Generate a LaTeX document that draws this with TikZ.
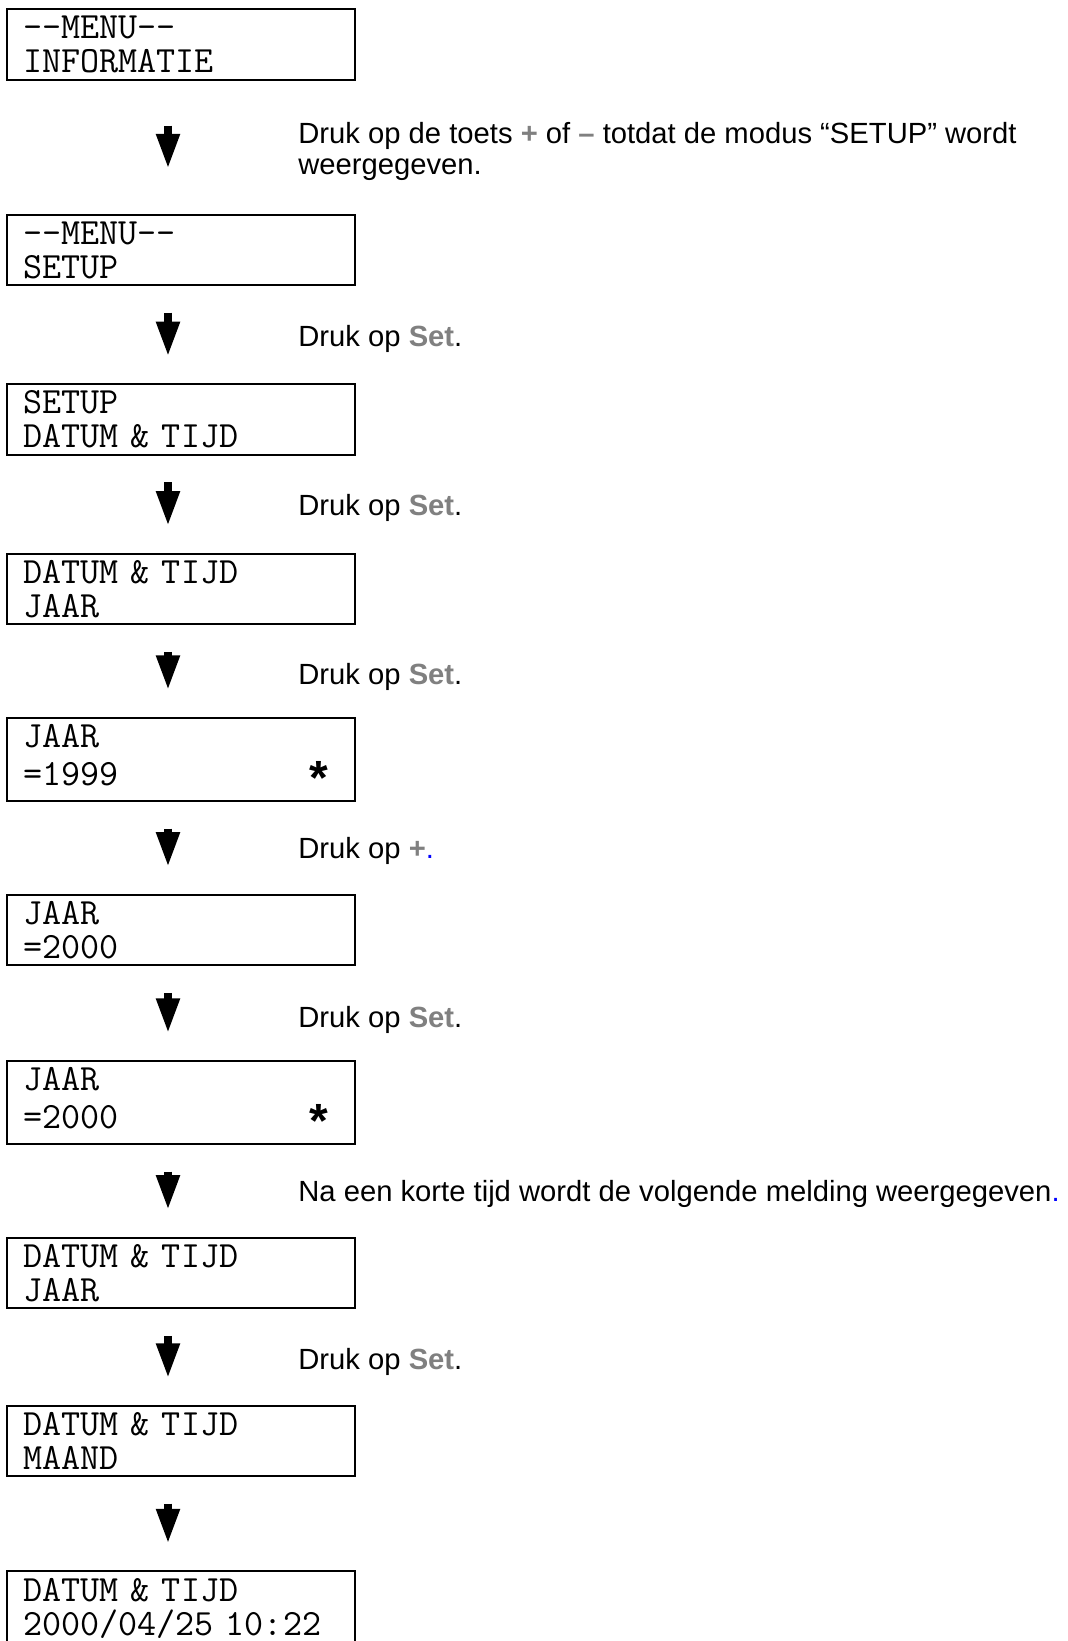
\documentclass[tikz,border=0pt]{standalone}
\usepackage{fontspec}
\setmainfont{Liberation Sans}
\usetikzlibrary{arrows.meta}
\definecolor{keygrey}{RGB}{128,128,128}
\definecolor{dotblue}{RGB}{0,0,255}
\newcommand{\toets}[1]{\textcolor{keygrey}{\textbf{#1}}}
\newcommand{\ster}[1]{\makebox[152.5pt][l]{#1\hfill\raisebox{-4.5pt}{\rmfamily\bfseries\fontsize{24}{17}\selectfont *}}}
\tikzstyle{lcd}=[draw, line width=1pt, minimum width=174pt, minimum height=34.5pt, text width=158pt, inner xsep=8pt, align=left, font=\ttfamily\fontsize{18.5}{17}\selectfont]
\tikzstyle{lcdstar}=[lcd, minimum height=37.5pt]
\tikzstyle{say}=[anchor=base west, inner sep=0pt, font=\fontsize{14.6}{15.5}\selectfont]
\tikzset{flow/.style={line width=4pt, -{Triangle[width=11pt,length=17.5pt]}, shorten <=#1, shorten >=#1}, flow/.default=13.25pt}

\begin{document}
\begin{tikzpicture}[x=0.5pt,y=-0.5pt]
	\useasboundingbox (0,0) rectangle (1068,1641);
	\coordinate (acol) at (168,0);
	\node[lcd] (b1) at (181,44.5) {-{}-MENU-{}-\\INFORMATIE};
	\node[lcd] (b2) at (181,250) {-{}-MENU-{}-\\SETUP};
	\node[lcd] (b3) at (181,419.5) {SETUP\\DATUM \& TIJD};
	\node[lcd] (b4) at (181,589) {DATUM \& TIJD\\JAAR};
	\node[lcdstar] (b5) at (181,759.5) {JAAR\\[2pt]\ster{=1999}};
	\node[lcd] (b6) at (181,930) {JAAR\\=2000};
	\node[lcdstar] (b7) at (181,1102.5) {JAAR\\[2pt]\ster{=2000}};
	\node[lcd] (b8) at (181,1273) {DATUM \& TIJD\\JAAR};
	\node[lcd] (b9) at (181,1441) {DATUM \& TIJD\\MAAND};
	\node[lcd] (b10) at (181,1608) {DATUM \& TIJD\\2000/04/25 10:22};
	\draw[flow=22.5pt] (b1.south -| acol) -- (b2.north -| acol);
	\draw[flow] (b2.south -| acol) -- (b3.north -| acol);
	\draw[flow] (b3.south -| acol) -- (b4.north -| acol);
	\draw[flow] (b4.south -| acol) -- (b5.north -| acol);
	\draw[flow] (b5.south -| acol) -- (b6.north -| acol);
	\draw[flow] (b6.south -| acol) -- (b7.north -| acol);
	\draw[flow] (b7.south -| acol) -- (b8.north -| acol);
	\draw[flow] (b8.south -| acol) -- (b9.north -| acol);
	\draw[flow] (b9.south -| acol) -- (b10.north -| acol);
	\node[say, anchor=west, align=left] (t1) at (298,151.5) {Druk op de toets \toets{+} of \toets{–} totdat de modus “SETUP” wordt\\weergegeven.};
	\node[say] (t2) at (298,347) {Druk op \toets{Set}.};
	\node[say] (t3) at (298,516) {Druk op \toets{Set}.};
	\node[say] (t4) at (298,684.5) {Druk op \toets{Set}.};
	\node[say] (t5) at (298,858.5) {Druk op \toets{+}\textcolor{dotblue}{.}};
	\node[say] (t6) at (298,1027) {Druk op \toets{Set}.};
	\node[say] (t7) at (298,1201) {Na een korte tijd wordt de volgende melding weergegeven\textcolor{dotblue}{.}};
	\node[say] (t8) at (298,1369) {Druk op \toets{Set}.};
\end{tikzpicture}
\end{document}
